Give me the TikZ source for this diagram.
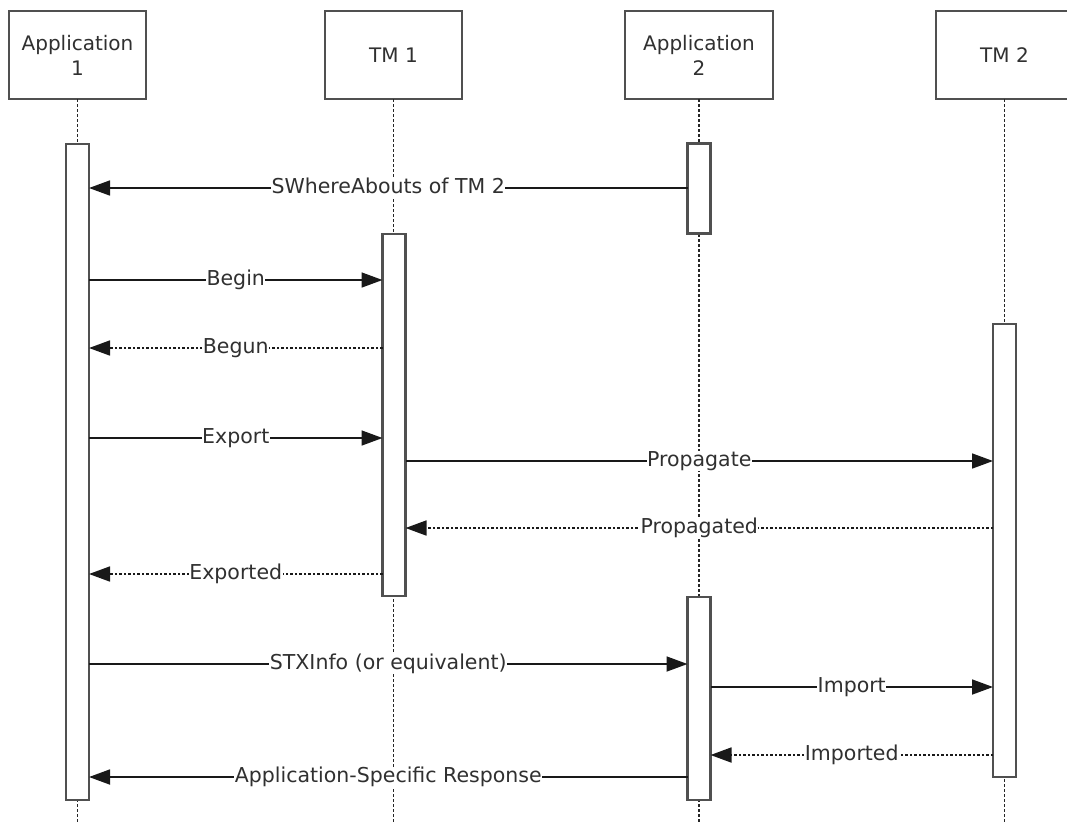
\documentclass[tikz,border=0pt]{standalone}
\usepackage{fontspec}
\setmainfont{DejaVu Sans}
\usetikzlibrary{arrows.meta}
\definecolor{boxgray}{HTML}{505050}
\definecolor{txtgray}{HTML}{303030}
\tikzset{
  actor/.style={draw=boxgray, line width=2.2pt, fill=white, minimum height=88pt, inner sep=0pt, outer sep=0pt, align=center, text=txtgray, font=\fontsize{20}{25}\selectfont},
  bar/.style={draw=boxgray, line width=2.2pt, fill=white, minimum width=23pt, inner sep=0pt, outer sep=0pt},
  lifeline/.style={line width=1.8pt, dash pattern=on 3pt off 2pt, black!85},
  msg/.style={line width=1.7pt, black!90, -{Triangle[length=21pt,width=15pt]}},
  reply/.style={msg, dash pattern=on 2.5pt off 2pt},
  lbl/.style={fill=white, inner sep=0.5pt, text=txtgray, font=\fontsize{20.5}{24}\selectfont, text height=15pt, text depth=4pt}
}
\begin{document}
\begin{tikzpicture}[x=1pt,y=-1pt]
\useasboundingbox (0,0) rectangle (1067,823);
% actors
\node[actor, minimum width=137pt] (A1) at (77.5,55) {Application\\1};
\node[actor, minimum width=137pt] (T1) at (393.5,55) {TM 1};
\node[actor, minimum width=148pt] (A2) at (699,55) {Application\\2};
\node[actor, minimum width=137pt] (T2) at (1004.5,55) {TM 2};
% lifeline ends
\coordinate (A1e) at (77.5,823);
\coordinate (T1e) at (393.5,823);
\coordinate (A2e) at (699,823);
\coordinate (T2e) at (1004.5,823);
\draw[lifeline] (A1.south) -- (A1e);
\draw[lifeline] (T1.south) -- (T1e);
\draw[lifeline] (A2.south) -- (A2e);
\draw[lifeline] (T2.south) -- (T2e);
% activation bars
\node[bar, minimum height=656pt] (A1b) at (77.5,472) {};
\node[bar, minimum height=362pt] (T1b) at (394,415) {};
\node[bar, minimum height=90pt] (A2b1) at (699,188.5) {};
\node[bar, minimum height=203pt] (A2b2) at (699,698.5) {};
\node[bar, minimum height=453pt] (T2b) at (1004.5,550.5) {};
% messages
\draw[msg] (A2b1.west |- 0,188) -- node[lbl]{SWhereAbouts of TM 2} (A1b.east |- 0,188);
\draw[msg] (A1b.east |- 0,280) -- node[lbl]{Begin} (T1b.west |- 0,280);
\draw[reply] (T1b.west |- 0,348) -- node[lbl]{Begun} (A1b.east |- 0,348);
\draw[msg] (A1b.east |- 0,438) -- node[lbl]{Export} (T1b.west |- 0,438);
\draw[msg] (T1b.east |- 0,461) -- node[lbl]{Propagate} (T2b.west |- 0,461);
\draw[reply] (T2b.west |- 0,528) -- node[lbl]{Propagated} (T1b.east |- 0,528);
\draw[reply] (T1b.west |- 0,574) -- node[lbl]{Exported} (A1b.east |- 0,574);
\draw[msg] (A1b.east |- 0,664) -- node[lbl]{STXInfo (or equivalent)} (A2b2.west |- 0,664);
\draw[msg] (A2b2.east |- 0,687) -- node[lbl]{Import} (T2b.west |- 0,687);
\draw[reply] (T2b.west |- 0,755) -- node[lbl]{Imported} (A2b2.east |- 0,755);
\draw[msg] (A2b2.west |- 0,777) -- node[lbl]{Application-Specific Response} (A1b.east |- 0,777);
\end{tikzpicture}
\end{document}
